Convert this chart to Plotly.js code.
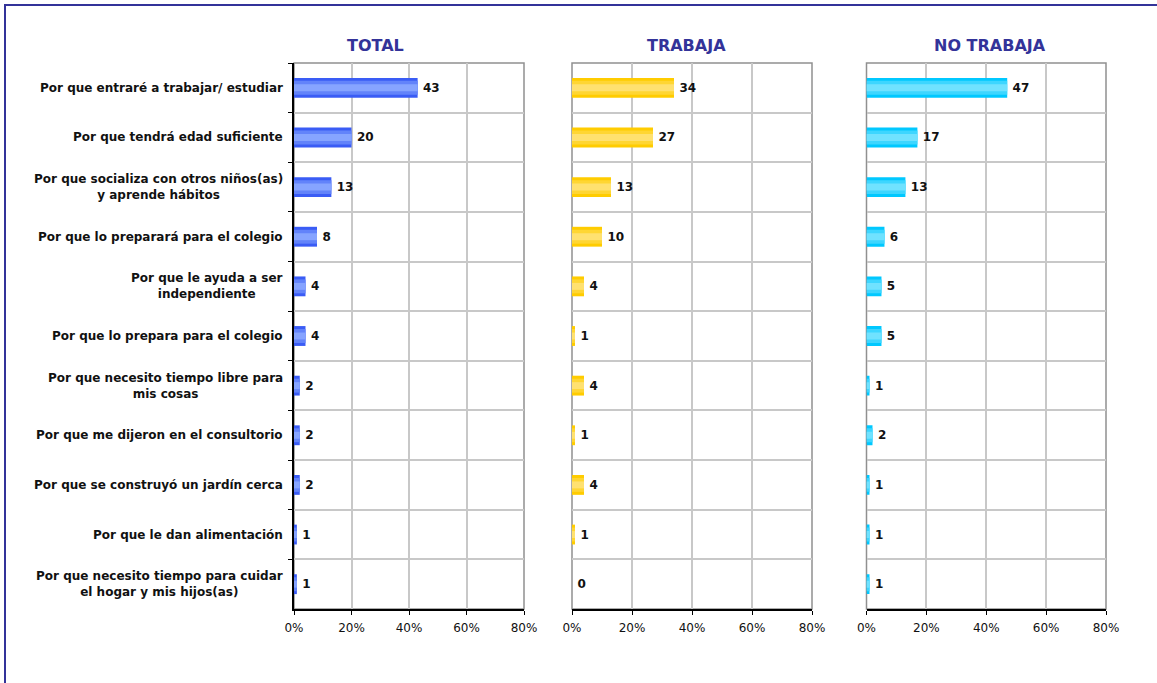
<!DOCTYPE html>
<html>
<head>
<meta charset="utf-8">
<script src="https://cdn.plot.ly/plotly-3.0.1.min.js"></script>
<style>
  html, body { margin:0; padding:0; background:#fff; overflow:hidden; }
  #chart { position:absolute; left:0; top:0; width:1157px; height:683px; }
  #frame { position:absolute; left:4px; top:4px; width:3000px; height:3000px;
           border:2px solid #333399; pointer-events:none; }
</style>
</head>
<body>
<div id="chart"></div>
<div id="frame"></div>
<script>
// ---- data ----
const categories = [
  "Por que entraré a trabajar/ estudiar",
  "Por que tendrá edad suficiente",
  "Por que socializa con otros niños(as)<br>y aprende hábitos",
  "Por que lo preparará para el colegio",
  "Por que le ayuda a ser<br>independiente",
  "Por que lo prepara para el colegio",
  "Por que necesito tiempo libre para<br>mis cosas",
  "Por que me dijeron en el consultorio",
  "Por que se construyó un jardín cerca",
  "Por que le dan alimentación",
  "Por que necesito tiempo para cuidar<br>el hogar y mis hijos(as)"
];
const panelTitles = ["TOTAL", "TRABAJA", "NO TRABAJA"];
const totalValues     = [43, 20, 13, 8, 4, 4, 2, 2, 2, 1, 1];
const trabajaValues   = [34, 27, 13, 10, 4, 1, 4, 1, 4, 1, 0];
const noTrabajaValues = [47, 17, 13, 6, 5, 5, 1, 2, 1, 1, 1];
const xTickValues = [0, 20, 40, 60, 80];

// ---- styling ----
const W = 1157, H = 683;
const series = [totalValues, trabajaValues, noTrabajaValues];
const palettes = [
  ["#3a5cf5", "#6283fa", "#86a4ff"],
  ["#ffcc00", "#ffd633", "#ffe170"],
  ["#00c8ff", "#3dd6ff", "#70e2ff"]
];
const xDomainsPx = [[294, 524], [572, 812], [866.5, 1106]];
const titleCentersPx = [375, 686, 990];
const plotTopPx = 63, plotBottomPx = 609;
const yDomain = [1 - plotBottomPx / H, 1 - plotTopPx / H];
const barWidths = [0.4, 0.28, 0.14];

const traces = [];
const layout = {
  width: W, height: H,
  margin: {l: 0, r: 0, t: 0, b: 0, pad: 0},
  paper_bgcolor: "#ffffff",
  plot_bgcolor: "#ffffff",
  barmode: "overlay",
  showlegend: false,
  font: {family: "DejaVu Sans, sans-serif", size: 12, color: "#000"},
  annotations: [],
  shapes: []
};

series.forEach((vals, p) => {
  const xa = p === 0 ? "x" : "x" + (p + 1);
  const ya = p === 0 ? "y" : "y" + (p + 1);
  barWidths.forEach((bw, k) => {
    const t = {
      type: "bar", orientation: "h",
      x: vals, y: categories,
      xaxis: xa, yaxis: ya,
      width: bw,
      marker: {color: palettes[p][k], line: {width: 0}},
      cliponaxis: false,
      hoverinfo: "x+y"
    };
    if (k === 0) {
      t.text = vals.map(v => "\u2009" + v);
      t.textposition = "outside";
      t.textfont = {family: "DejaVu Sans, sans-serif", size: 12, color: "#111", weight: "bold"};
    } else {
      t.textposition = "none";
    }
    traces.push(t);
  });

  const xKey = p === 0 ? "xaxis" : "xaxis" + (p + 1);
  const yKey = p === 0 ? "yaxis" : "yaxis" + (p + 1);
  layout[xKey] = {
    domain: [xDomainsPx[p][0] / W, xDomainsPx[p][1] / W],
    anchor: ya,
    range: [0, 80],
    tickvals: xTickValues,
    ticktext: xTickValues.map(v => v + "%"),
    showgrid: true, gridcolor: "#c8c8c8", gridwidth: 1.5,
    zeroline: false,
    showline: true, linecolor: "#000", linewidth: 1.5,
    ticks: "outside", ticklen: 4, tickcolor: "#000", tickwidth: 1,
    ticklabelstandoff: 3,
    tickfont: {family: "DejaVu Sans, sans-serif", size: 12, color: "#111"},
    automargin: false, fixedrange: true
  };
  layout[yKey] = {
    domain: yDomain,
    anchor: xa,
    type: "category",
    categoryorder: "array", categoryarray: categories,
    autorange: "reversed",
    tickson: "boundaries",
    showgrid: true, gridcolor: "#c8c8c8", gridwidth: 1.5,
    zeroline: false,
    showline: p === 0, linecolor: "#000", linewidth: 1.5,
    ticks: p === 0 ? "outside" : "", ticklen: 4, tickcolor: "#000",
    showticklabels: false,
    automargin: false, fixedrange: true
  };

  // gray frame around the plot area
  layout.shapes.push({
    type: "rect", xref: xa + " domain", yref: ya + " domain",
    x0: 0, x1: 1, y0: 0, y1: 1,
    line: {color: "#909090", width: 1.5}, layer: "below"
  });

  // panel title
  layout.annotations.push({
    text: panelTitles[p], xref: "paper", yref: "paper",
    x: titleCentersPx[p] / W, y: 1 - 46 / H,
    xanchor: "center", yanchor: "middle", showarrow: false,
    font: {family: "DejaVu Sans, sans-serif", size: 16, color: "#333399", weight: "bold"}
  });
});

// category labels (centered multi-line, right-anchored at axis)
categories.forEach(c => {
  layout.annotations.push({
    text: c, xref: "x domain", yref: "y",
    x: 0, y: c, xanchor: "right", yanchor: "middle", xshift: -9,
    align: "center", showarrow: false,
    font: {family: "DejaVu Sans, sans-serif", size: 12, color: "#111", weight: "bold"}
  });
});

Plotly.newPlot("chart", traces, layout, {displayModeBar: false});
</script>
</body>
</html>
